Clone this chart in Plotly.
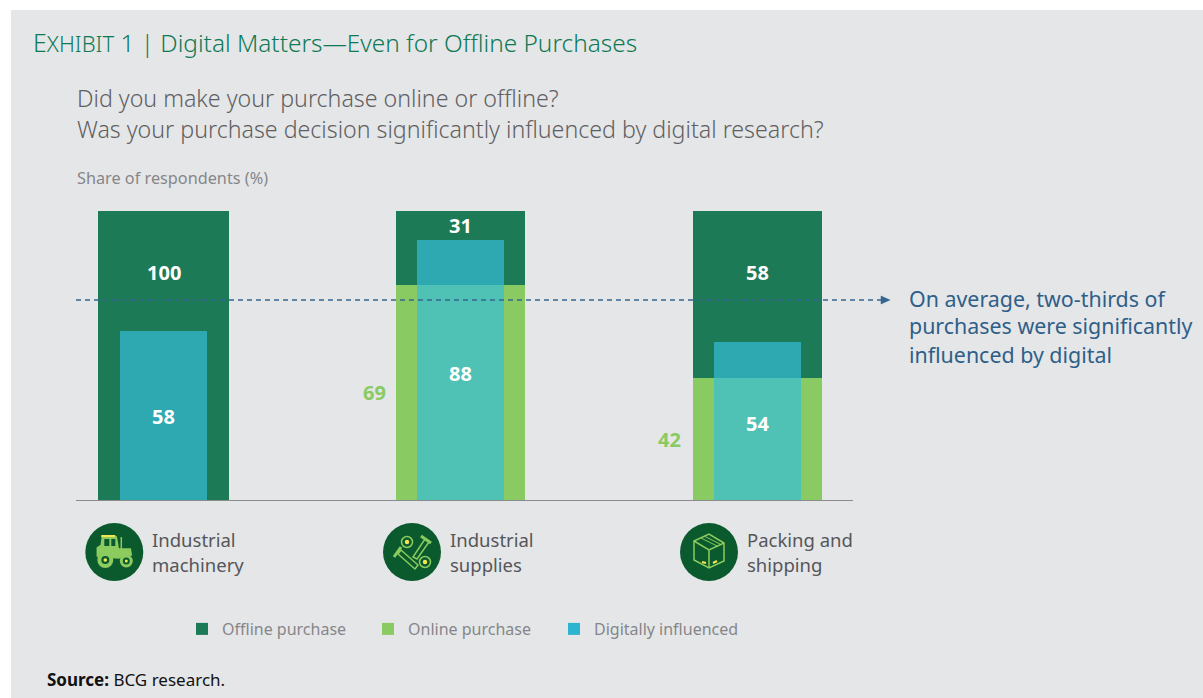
import plotly.graph_objects as go

W, H = 1203, 698
categories = ["Industrial machinery", "Industrial supplies", "Packing and shipping"]
category_lines = [["Industrial", "machinery"], ["Industrial", "supplies"], ["Packing and", "shipping"]]

# Labels as printed in the exhibit
offline_labels = [100, 31, 58]
online_labels = [None, 69, 42]
digital_labels = [58, 88, 54]
# Bar heights as drawn in the exhibit (they differ slightly from the printed labels)
online_drawn = [0, 74.4, 42.2]
offline_drawn = [100, 25.6, 57.8]
digital_drawn = [58.5, 90, 54.7]
# Where the printed labels sit, in value units
offline_label_y = [78.8, 95.1, 78.6]
digital_label_y = [29, 43.9, 26.3]
online_label_y = [None, 37.3, 21.1]

DARK, LIGHT, TEAL = "#1D7A56", "#8ACA62", "#36BCDB"
BG = "#E5E6E8"
ICON_BG, ICON_G, ICON_Y = "#0B5A2E", "#8CCB5E", "#F2E84B"


def px(x):
    return x / W


def py(y):
    return 1 - y / H


def path(d):
    out = []
    for tok in d.split():
        if "," in tok:
            cmd = tok[0] if tok[0].isalpha() else ""
            a, b = tok[len(cmd):].split(",")
            out.append(f"{cmd}{px(float(a)):.5f},{py(float(b)):.5f}")
        else:
            out.append(tok)
    return " ".join(out)


shapes = []


def paper_shape(kind, **kw):
    shapes.append(dict(type=kind, xref="paper", yref="paper", **kw))


def rect(x0, y0, x1, y1, fill=None, line=None, lw=0, layer="above"):
    paper_shape("rect", x0=px(x0), y0=py(y0), x1=px(x1), y1=py(y1), fillcolor=fill,
                line=dict(color=line, width=lw), layer=layer)


def circle(cx, cy, r, fill=None, line=None, lw=0):
    paper_shape("circle", x0=px(cx - r), y0=py(cy - r), x1=px(cx + r), y1=py(cy + r),
                fillcolor=fill, line=dict(color=line, width=lw))


def stroke(d, color=ICON_G, lw=1.5, fill=None):
    paper_shape("path", path=path(d), line=dict(color=color, width=lw), fillcolor=fill)


# Grey panel
rect(11, 10, W + 2, H + 2, fill=BG, layer="below")

# Tractor icon
cx, cy = 114.3, 552
circle(cx, cy, 29, ICON_BG)
stroke(f"M{cx-17},{cy+4} L{cx-17},{cy-4} L{cx-13},{cy-7} L{cx-12},{cy-15} L{cx+2},{cy-15} L{cx+4},{cy-3} L{cx+16},{cy-3} L{cx+17},{cy+3} L{cx+4},{cy+6} Z", fill=ICON_G)
rect(cx - 10, cy - 13, cx - 5, cy - 6, fill=ICON_BG)
rect(cx - 3, cy - 13, cx + 1, cy - 6, fill=ICON_BG)
rect(cx - 13, cy - 17, cx + 1, cy - 15, fill=ICON_Y)
stroke(f"M{cx+7},{cy-3} L{cx+7},{cy-15}", lw=1.5)
circle(cx - 9, cy + 8, 8, ICON_G)
circle(cx - 9, cy + 8, 4, ICON_BG)
circle(cx - 9, cy + 8, 1.8, ICON_Y)
circle(cx + 12, cy + 9, 6.5, ICON_G)
circle(cx + 12, cy + 9, 3.5, ICON_BG)
circle(cx + 12, cy + 9, 1.5, ICON_Y)

# Bolts icon
cx, cy = 412, 552
circle(cx, cy, 29, ICON_BG)
stroke(f"M{cx+1},{cy+5} L{cx+13},{cy-13} L{cx+17},{cy-10} L{cx+5},{cy+7} Z")
stroke(f"M{cx+9},{cy-16} L{cx+19},{cy-9}", lw=3)
stroke(f"M{cx-14},{cy+2} L{cx+3},{cy+17} L{cx+6},{cy+13} L{cx-11},{cy-2} Z")
stroke(f"M{cx-18},{cy+5} L{cx-11},{cy-5}", lw=3)
for nx, ny in [(-5, -10), (13, 10)]:
    circle(cx + nx, cy + ny, 5.5, None, ICON_G, 1.5)
    circle(cx + nx, cy + ny, 2.2, ICON_Y)

# Box icon
cx, cy = 709, 552
circle(cx, cy, 29, ICON_BG)
stroke(f"M{cx-15},{cy-11} L{cx},{cy-18} L{cx+15},{cy-9} L{cx+15},{cy+9} L{cx},{cy+16} L{cx-15},{cy+8} Z")
stroke(f"M{cx-15},{cy-11} L{cx},{cy-2} L{cx+15},{cy-9} M{cx},{cy-2} L{cx},{cy+16}")
stroke(f"M{cx-8},{cy-14} L{cx+8},{cy-6} M{cx-5},{cy-16} L{cx+11},{cy-8}", lw=1)
stroke(f"M{cx-7},{cy+10} L{cx-3},{cy+11} M{cx+4},{cy+11} L{cx+8},{cy+9}", color=ICON_Y, lw=2)

# Average line and arrowhead
paper_shape("line", x0=px(76), x1=px(881), y0=py(300), y1=py(300),
            line=dict(color="#35658F", width=1.3, dash="5px,4px"))
stroke("M881,296 L890,300 L881,304 Z", color="#35658F", lw=0.5, fill="#35658F")

fig = go.Figure()
fig.add_bar(x=categories, y=offline_drawn, base=online_drawn, width=[131 / 296.75, 129 / 296.75, 129 / 296.75],
            name="Offline purchase", marker=dict(color=DARK, line_width=0), hoverinfo="skip")
fig.add_bar(x=categories, y=online_drawn, base=0, width=129 / 296.75,
            name="Online purchase", marker=dict(color=LIGHT, line_width=0), hoverinfo="skip")
fig.add_bar(x=categories, y=digital_drawn, base=0, width=87 / 296.75, showlegend=False,
            name="Digitally influenced", opacity=0.69, marker=dict(color=TEAL, line_width=0), hoverinfo="skip")
# Legend entry in the solid colour of the exhibit's key
fig.add_bar(x=[None], y=[None], name="Digitally influenced", marker=dict(color="#2DB4CF", line_width=0), hoverinfo="skip")

ann = []


def text(x, y, s, size, color, family="Noto Sans", anchor="left", weight=None):
    f = dict(size=size, color=color, family=family)
    if weight:
        f["weight"] = weight
    ann.append(dict(x=px(x), y=py(y), xref="paper", yref="paper", text=s, showarrow=False,
                    xanchor=anchor, yanchor="middle", align="left",
                    font=f, borderpad=0, borderwidth=0))


def sc(txt, big, small):
    return f'<span style="font-size:{big}px">{txt[0]}</span><span style="font-size:{small}px">{txt[1:]}</span>'


GREEN_T = "#0F7A55"
text(33, 42, f'{sc("EXHIBIT", 25, 22)} 1 | Digital Matters—Even for Offline Purchases', 24.4, GREEN_T, weight=300)
text(77, 98, "Did you make your purchase online or offline?", 23.2, "#5F6062", weight=300)
text(77, 129, "Was your purchase decision significantly influenced by digital research?", 23.2, "#5F6062", weight=300)
text(77, 178, "Share of respondents (%)", 16.25, "#858688")
text(909, 299, "On average, two-thirds of", 21.4, "#2F5F88")
text(909, 326, "purchases were significantly", 21.4, "#2F5F88")
text(909, 354, "influenced by digital", 21.4, "#2F5F88")
text(47, 679, "<b>Source:</b> BCG research.", 17, "#111111")

for (lx, lines) in zip([152, 450, 747], category_lines):
    text(lx, 539, lines[0], 18.5, "#55565A")
    text(lx, 564, lines[1], 18.5, "#55565A")

for i, c in enumerate(categories):
    ann.append(dict(x=c, y=offline_label_y[i], text=f"<b>{offline_labels[i]}</b>", showarrow=False,
                    font=dict(size=20, color="white", family="Noto Sans")))
    ann.append(dict(x=c, y=digital_label_y[i], text=f"<b>{digital_labels[i]}</b>", showarrow=False,
                    font=dict(size=20, color="white", family="Noto Sans")))
    if online_labels[i] is not None:
        ann.append(dict(x=c, y=online_label_y[i], text=f"<b>{online_labels[i]}</b>", showarrow=False,
                        xshift=-86.5 if i == 1 else -88.5, font=dict(size=20, color=LIGHT, family="Noto Sans")))

fig.update_layout(
    width=W, height=H, autosize=False, margin=dict(l=0, r=0, t=0, b=0, pad=0),
    paper_bgcolor="white", plot_bgcolor="rgba(0,0,0,0)", barmode="overlay",
    shapes=shapes, annotations=ann, bargap=0,
    xaxis=dict(domain=[px(76), px(853)], range=[-0.2965, 2.3218], type="category",
               categoryorder="array", categoryarray=categories, showticklabels=False,
               ticks="", showgrid=False, zeroline=False, showline=True, linecolor="#8A8B8D", linewidth=1.2),
    yaxis=dict(domain=[py(500), py(211)], range=[0, 100], visible=False),
    legend=dict(orientation="h", x=px(182), y=py(629), xanchor="left", yanchor="middle",
                entrywidth=141, entrywidthmode="pixels", traceorder="normal", bgcolor="rgba(0,0,0,0)",
                font=dict(size=16, color="#858688", family="Noto Sans")),
)
fig.write_html("out.html", config=dict(displayModeBar=False), post_script="document.body.style.margin='0';")
